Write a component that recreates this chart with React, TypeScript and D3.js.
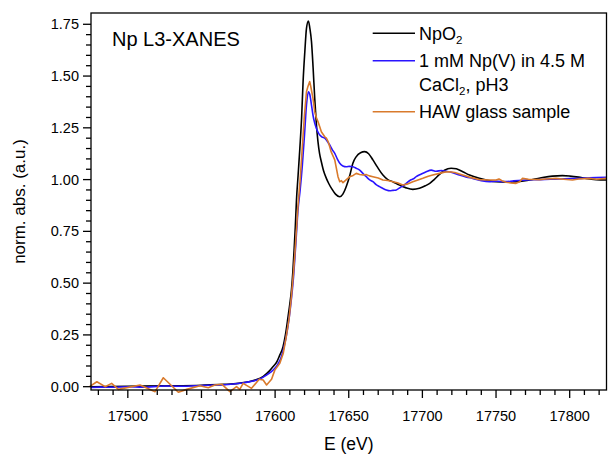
import React from "react";
import * as d3 from "d3";

const npo2E = [17475, 17500, 17525, 17550, 17565, 17575, 17582, 17587, 17592, 17596, 17599, 17601, 17603, 17605.4, 17607, 17608.8, 17610, 17611.1, 17612, 17612.9, 17613.7, 17614.5, 17615.6, 17616.8, 17618, 17619, 17620.2, 17621.3, 17622.6, 17623.6, 17624.7, 17625.8, 17626.9, 17628, 17629.1, 17630.2, 17631.4, 17633, 17634.8, 17636.5, 17638.5, 17641, 17643.9, 17646, 17648.5, 17650.7, 17652.8, 17655, 17658, 17660.8, 17663.5, 17666.4, 17669.5, 17673.2, 17676.5, 17679.9, 17684, 17689, 17693.5, 17698, 17702, 17705, 17708, 17711.6, 17715, 17719.5, 17723, 17727.4, 17732, 17738.7, 17745, 17750, 17757, 17765, 17772.6, 17780, 17788.3, 17795, 17800, 17806, 17811, 17818, 17825];
const npo2Y = [0.0, 0.002, 0.004, 0.007, 0.011, 0.016, 0.024, 0.033, 0.05, 0.075, 0.1, 0.118, 0.15, 0.193, 0.25, 0.338, 0.4, 0.467, 0.55, 0.66, 0.77, 0.9, 1.02, 1.151, 1.3, 1.473, 1.62, 1.73, 1.766, 1.73, 1.666, 1.54, 1.393, 1.27, 1.183, 1.125, 1.086, 1.04, 1.006, 0.98, 0.955, 0.93, 0.917, 0.93, 0.97, 1.02, 1.079, 1.11, 1.13, 1.135, 1.125, 1.095, 1.06, 1.022, 1.0, 0.99, 0.975, 0.96, 0.953, 0.958, 0.97, 0.982, 1.0, 1.025, 1.045, 1.055, 1.052, 1.038, 1.022, 1.006, 0.995, 0.99, 0.988, 0.99, 0.998, 1.008, 1.017, 1.019, 1.017, 1.012, 1.006, 1.0, 0.998];

const npvE = [17475, 17482, 17490, 17500, 17510, 17525, 17540, 17550, 17560, 17570, 17578, 17585, 17590, 17594, 17597, 17600, 17602, 17604, 17606, 17608, 17609.5, 17611, 17612.5, 17613.5, 17614.5, 17615.5, 17617, 17618.5, 17620, 17621.3, 17622.6, 17623.6, 17624.7, 17625.7, 17626.8, 17628, 17629.2, 17630.3, 17632, 17633.7, 17635.4, 17637.1, 17638.8, 17640.5, 17642.2, 17643.9, 17646, 17648.4, 17650.5, 17652.8, 17655, 17657.4, 17659.6, 17661.9, 17664, 17666.4, 17668.6, 17670.9, 17673, 17675.5, 17678, 17680, 17682.3, 17685, 17687, 17689, 17692, 17694, 17695.8, 17699, 17702.6, 17706, 17709.3, 17713, 17716, 17718.4, 17722, 17725.1, 17730, 17734.1, 17740, 17745.5, 17750, 17756, 17762, 17768, 17774, 17780, 17787, 17793, 17800, 17806.5, 17812, 17818, 17825];
const npvY = [-0.004, -0.002, -0.003, 0.0, -0.002, 0.003, 0.002, 0.006, 0.008, 0.012, 0.018, 0.027, 0.038, 0.055, 0.07, 0.09, 0.11, 0.14, 0.19, 0.26, 0.33, 0.42, 0.53, 0.63, 0.74, 0.85, 0.95, 1.07, 1.22, 1.36, 1.424, 1.41, 1.36, 1.312, 1.275, 1.248, 1.228, 1.215, 1.205, 1.2, 1.185, 1.167, 1.145, 1.127, 1.1, 1.079, 1.066, 1.062, 1.064, 1.062, 1.055, 1.046, 1.03, 1.014, 1.0, 0.99, 0.976, 0.966, 0.958, 0.95, 0.946, 0.948, 0.95, 0.962, 0.97, 0.982, 0.998, 1.004, 1.014, 1.026, 1.038, 1.046, 1.04, 1.044, 1.04, 1.038, 1.03, 1.022, 1.012, 1.006, 0.995, 0.99, 0.992, 0.99, 0.994, 0.997, 0.999, 1.0, 1.002, 1.003, 1.005, 1.006, 1.008, 1.01, 1.011];

const hawE = [17474, 17479, 17484.6, 17489, 17493.6, 17508.3, 17518.5, 17524.1, 17534.3, 17540, 17549, 17554.6, 17559.1, 17563.7, 17569.3, 17573.8, 17576, 17578.3, 17584, 17589.2, 17591.9, 17594.2, 17597.6, 17599.8, 17603.2, 17605.5, 17607.5, 17609.5, 17611, 17612.5, 17613.5, 17614.5, 17615.5, 17617, 17618.5, 17619.8, 17621.3, 17622.3, 17623.5, 17624.2, 17625.7, 17626.9, 17628, 17629.1, 17630.3, 17631.4, 17633.7, 17634.8, 17636, 17637.1, 17638, 17640.5, 17642.7, 17643.9, 17645, 17646.1, 17648.4, 17650.7, 17653, 17655.1, 17657.4, 17659.6, 17662, 17664, 17666.4, 17670, 17673.2, 17676.5, 17679.9, 17683, 17686.7, 17689.5, 17693.5, 17697, 17700.3, 17704, 17707, 17711.6, 17715, 17718.4, 17722, 17727.4, 17732, 17738.7, 17745, 17750, 17752, 17754, 17756.8, 17760, 17763.6, 17766, 17768, 17772, 17779.4, 17784, 17790.7, 17796, 17801.9, 17806, 17813.3, 17818, 17825];
const hawY = [0.0, 0.024, 0.0, 0.016, -0.013, 0.008, -0.024, 0.043, -0.027, -0.013, 0.005, -0.005, 0.008, 0.012, -0.024, 0.0, -0.013, 0.016, -0.008, 0.036, 0.032, 0.008, 0.036, 0.08, 0.113, 0.16, 0.24, 0.33, 0.43, 0.55, 0.65, 0.76, 0.87, 1.0, 1.16, 1.3, 1.424, 1.45, 1.473, 1.45, 1.393, 1.328, 1.3, 1.28, 1.255, 1.231, 1.207, 1.2, 1.183, 1.159, 1.135, 1.095, 1.014, 0.99, 0.995, 0.985, 1.0, 1.014, 1.02, 1.03, 1.025, 1.022, 1.024, 1.018, 1.014, 1.008, 0.998, 0.996, 0.99, 0.985, 0.974, 0.978, 0.99, 0.998, 1.006, 1.016, 1.022, 1.03, 1.036, 1.038, 1.034, 1.022, 1.012, 1.0, 0.998, 0.998, 1.003, 0.995, 0.987, 0.984, 0.982, 0.99, 1.006, 1.002, 1.0, 1.003, 1.006, 1.002, 0.998, 1.003, 1.006, 1.002, 1.006];

const xMajor = [17500, 17550, 17600, 17650, 17700, 17750, 17800];
const yMajor = [0, 0.25, 0.5, 0.75, 1.0, 1.25, 1.5, 1.75];

const FONT = "'Liberation Sans', Arial, sans-serif";

export default function App() {
  const W = 608, H = 455;
  const L = 91, R = 606.5, T = 13, B = 390;
  const x = d3.scaleLinear().domain([17475, 17825]).range([L, R]);
  const y = d3.scaleLinear().domain([-0.016, 1.8045]).range([B, T]);

  const xMinor = d3.range(17480, 17825, 10).filter((v) => v % 50 !== 0);
  const yMinor = d3.range(0.05, 1.78, 0.05).filter((v) => Math.abs(Math.round(v / 0.25) * 0.25 - v) > 1e-6);

  const line = (es: number[], vs: number[], smooth: boolean) =>
    d3
      .line<number>()
      .x((_, i) => x(es[i]))
      .y((v) => y(v))
      .curve(smooth ? d3.curveMonotoneX : d3.curveLinear)(vs) || "";

  const BLUE = "#2a14ff";
  const ORANGE = "#d97a2c";
  const series = [
    { e: npo2E, v: npo2Y, color: "#000000", smooth: true },
    { e: npvE, v: npvY, color: BLUE, smooth: true },
    { e: hawE, v: hawY, color: ORANGE, smooth: false },
  ];

  const legX1 = 372.7, legX2 = 415, legT = 419;

  return (
    <svg width={W} height={H} style={{ position: "absolute", left: 0, top: 0, background: "#fff" }} fontFamily={FONT}>
      <rect x={0} y={0} width={W} height={H} fill="#fff" />
      {series.map((s, i) => (
        <path key={i} d={line(s.e, s.v, s.smooth)} fill="none" stroke={s.color} strokeWidth={1.6} strokeLinejoin="round" />
      ))}
      <rect x={L} y={T} width={R - L} height={B - T} fill="none" stroke="#000" strokeWidth={1.3} />
      {xMajor.map((v) => (
        <g key={"xm" + v}>
          <line x1={x(v)} x2={x(v)} y1={B} y2={B + 8} stroke="#000" strokeWidth={1.3} />
          <text x={x(v)} y={420.5} textAnchor="middle" fontSize={14.5} fill="#000">{v}</text>
        </g>
      ))}
      {xMinor.map((v) => (
        <line key={"xn" + v} x1={x(v)} x2={x(v)} y1={B} y2={B + 5} stroke="#000" strokeWidth={1.3} />
      ))}
      {yMajor.map((v) => (
        <g key={"ym" + v}>
          <line x1={L - 8} x2={L} y1={y(v)} y2={y(v)} stroke="#000" strokeWidth={1.3} />
          <text x={L - 12} y={y(v) + 5} textAnchor="end" fontSize={14.5} fill="#000">{v.toFixed(2)}</text>
        </g>
      ))}
      {yMinor.map((v) => (
        <line key={"yn" + v} x1={L - 5} x2={L} y1={y(v)} y2={y(v)} stroke="#000" strokeWidth={1.3} />
      ))}
      <text x={(L + R) / 2} y={450} textAnchor="middle" fontSize={17.5} fill="#000">E (eV)</text>
      <text transform={`translate(25,${(T + B) / 2}) rotate(-90)`} textAnchor="middle" fontSize={17} fill="#000">norm. abs. (a.u.)</text>
      <text x={112} y={46} fontSize={20} fill="#000">Np L3-XANES</text>
      <line x1={legX1} x2={legX2} y1={33.3} y2={33.3} stroke="#000" strokeWidth={1.6} />
      <text x={legT} y={39.5} fontSize={18} fill="#000">NpO<tspan fontSize={11.5} dy={4}>2</tspan></text>
      <line x1={legX1} x2={legX2} y1={60.7} y2={60.7} stroke={BLUE} strokeWidth={1.6} />
      <text x={legT} y={66.8} fontSize={18} fill="#000">1 mM Np(V) in 4.5 M</text>
      <text x={legT} y={90.8} fontSize={18} fill="#000">CaCl<tspan fontSize={11.5} dy={4}>2</tspan><tspan dy={-4}>, pH3</tspan></text>
      <line x1={legX1} x2={legX2} y1={111.7} y2={111.7} stroke={ORANGE} strokeWidth={1.6} />
      <text x={legT} y={117.8} fontSize={18} fill="#000">HAW glass sample</text>
    </svg>
  );
}
